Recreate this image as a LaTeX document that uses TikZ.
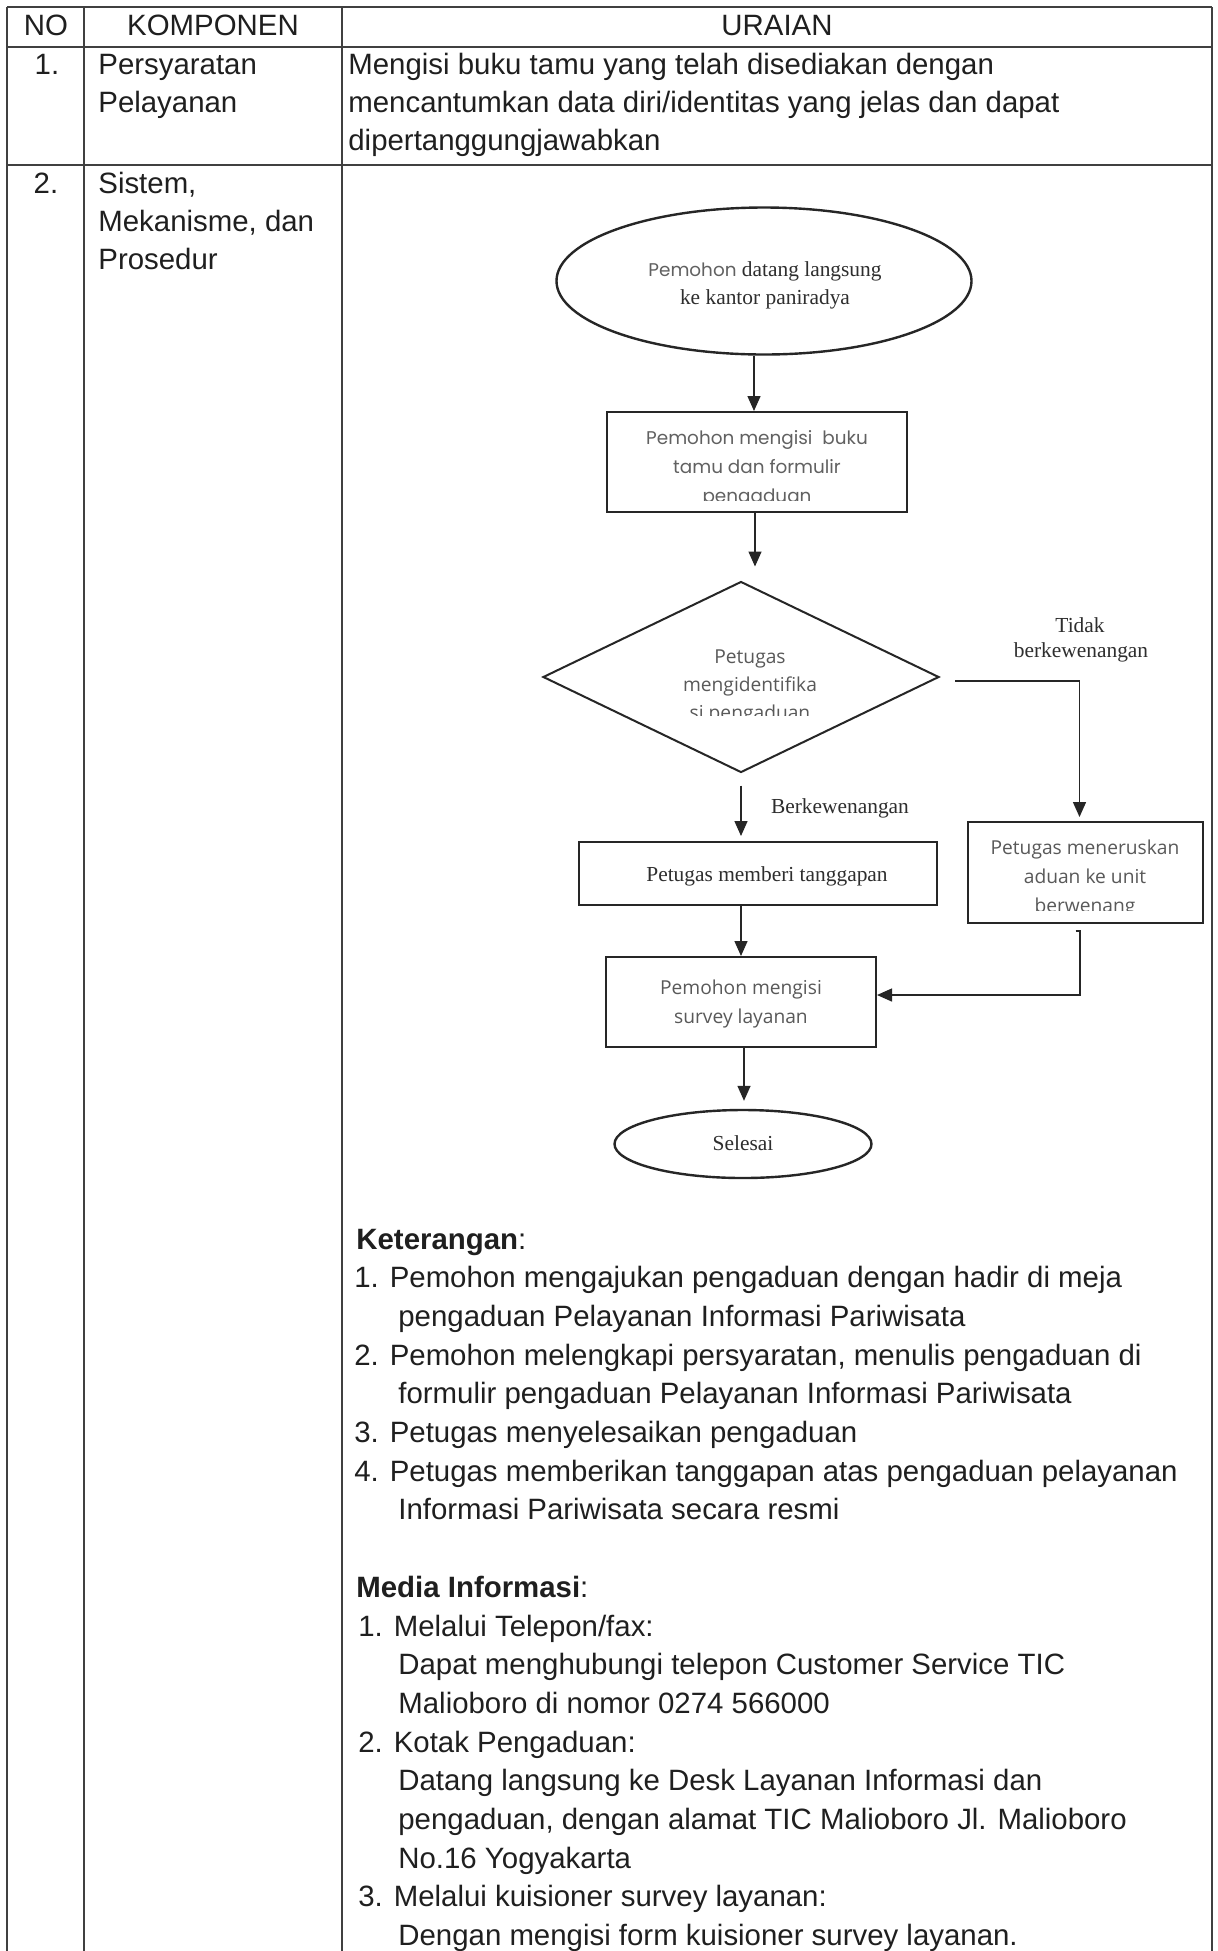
\documentclass[tikz,border=0pt]{standalone}
\usepackage{fontspec}
\setmainfont{Liberation Sans}
\newfontfamily\tms{Liberation Serif}
\newfontfamily\gth{Poppins}
\newfontfamily\seg{Open Sans}
\usetikzlibrary{shapes.geometric,arrows.meta,calc}
\tikzset{
  tline/.style={draw=black!75, line width=0.75pt},
  body/.style={font=\fontsize{14.7}{17}\selectfont, text=black!88, inner sep=0pt},
  bodyw/.style={body, anchor=base west},
  bodyc/.style={body, anchor=base},
  ser/.style={font=\tms\fontsize{10.7}{13}\selectfont, text=black!82, inner sep=0pt, anchor=base},
  gthf/.style={font=\gth\fontsize{9.2}{12}\selectfont, text=black!62, inner sep=0pt, anchor=base},
  segf/.style={font=\seg\fontsize{9.6}{12}\selectfont, text=black!65, inner sep=0pt, anchor=base},
  ellbox/.style={ellipse, draw=black!85, line width=1.2pt, inner sep=0pt},
  procbox/.style={rectangle, draw=black!85, line width=1pt, inner sep=0pt},
  decbox/.style={diamond, draw=black!85, line width=1pt, inner sep=0pt},
  arr/.style={draw=black!85, line width=0.7pt, -{Triangle[width=6.5pt,length=7.5pt]}}
}
\begin{document}
\begin{tikzpicture}[x=0.5pt,y=-0.5pt]
\useasboundingbox (0,0) rectangle (1218,1951);
\fill[white] (0,0) rectangle (1218,1951);
% table
\draw[tline] (7,7) -- (1212,7);
\draw[tline] (7,47) -- (1212,47);
\draw[tline] (7,165) -- (1212,165);
\draw[tline] (7,7) -- (7,1951);
\draw[tline] (84,7) -- (84,1951);
\draw[tline] (342,7) -- (342,1951);
\draw[tline] (1212,7) -- (1212,1951);
% header
\node[bodyc] (hno) at (46,35) {NO};
\node[bodyc] (hkomp) at (213,35) {KOMPONEN};
\node[bodyc] (hur) at (777,35) {URAIAN};
% row 1
\node[bodyc] (r1no) at (47,74) {1.};
\node[bodyw] (r1k1) at (98,74) {Persyaratan};
\node[bodyw] (r1k2) at (98,112) {Pelayanan};
\node[bodyw] (r1u1) at (348,74) {Mengisi buku tamu yang telah disediakan dengan};
\node[bodyw] (r1u2) at (348,112) {mencantumkan data diri/identitas yang jelas dan dapat};
\node[bodyw] (r1u3) at (348,150) {dipertanggungjawabkan};
% row 2
\node[bodyc] (r2no) at (46,193) {2.};
\node[bodyw] (r2k1) at (98,193) {Sistem,};
\node[bodyw] (r2k2) at (98,231) {Mekanisme, dan};
\node[bodyw] (r2k3) at (98,269) {Prosedur};

% flowchart shapes
\node[ellbox, minimum width=207.5pt, minimum height=73.5pt] (ell1) at (764,281) {};
\node[ser] (e1a) at (765,276) {{\gth\fontsize{9.2}{12}\selectfont\color{black!62}Pemohon} datang langsung};
\node[ser] (e1b) at (765,304) {ke kantor paniradya};

\node[procbox, minimum width=150pt, minimum height=50pt] (box1) at (757,462) {};
\node[gthf] (b1a) at (757,444) {Pemohon mengisi \ buku};
\node[gthf] (b1b) at (757,473) {tamu dan formulir};
\begin{scope}
\clip (607,480) rectangle (907,500);
\node[gthf] (b1c) at (757,502) {pengaduan};
\end{scope}

\node[decbox, minimum width=198pt, minimum height=95.5pt] (dia) at (741,677) {};
\node[segf] (da) at (750,663) {Petugas};
\node[segf] (db) at (750,691) {mengidentifika};
\begin{scope}
\clip (600,700) rectangle (900,715);
\node[segf] (dc) at (750,719) {si pengaduan};
\end{scope}

\node[procbox, minimum width=179pt, minimum height=31.5pt] (tbox) at (758,873.5) {};
\node[ser] (ta) at (767,881) {Petugas memberi tanggapan};

\node[procbox, minimum width=117.5pt, minimum height=50.5pt] (mbox) at (1085.5,872.5) {};
\node[segf] (ma) at (1085,854) {Petugas meneruskan};
\node[segf] (mb) at (1085,883) {aduan ke unit};
\begin{scope}
\clip (970,890) rectangle (1200,910);
\node[segf] (mc) at (1085,912) {berwenang};
\end{scope}

\node[procbox, minimum width=135pt, minimum height=45pt] (sbox) at (741,1002) {};
\node[segf] (sa) at (741,994) {Pemohon mengisi};
\node[segf] (sb) at (741,1023) {survey layanan};

\node[ellbox, minimum width=128.5pt, minimum height=34pt] (ell2) at (743,1144) {};
\node[ser] (ea) at (743,1150) {Selesai};

% labels
\node[ser] (lt1) at (1080,632) {Tidak};
\node[ser] (lt2) at (1081,657) {berkewenangan};
\node[ser] (lb) at (840,813) {Berkewenangan};

% connectors
\draw[arr] ([xshift=-5pt]ell1.south) -- ([xshift=-5pt]ell1.south |- box1.north);
\draw[arr, shorten >=7pt] ([xshift=-1pt]box1.south) -- ([xshift=-1pt]box1.south |- dia.north);
\draw[arr, shorten >=2pt] ([shift={(7.5pt,-2pt)}]dia.east) -| ([xshift=-3pt]mbox.north);
\draw[arr, shorten >=2.5pt] ([yshift=-6pt]dia.south) -- (dia.south |- tbox.north);
\draw[arr] (tbox.south -| sbox.north) -- (sbox.north);
\draw[arr] ([shift={(-5pt,-3.5pt)}]mbox.south) -- ([shift={(-2.75pt,-3.5pt)}]mbox.south) |- ([yshift=3.5pt]sbox.east);
\draw[arr, shorten >=4pt] ([xshift=1.5pt]sbox.south) -- ([xshift=1.5pt]sbox.south |- ell2.north);

% lower text
\node[bodyw] (kt) at (356,1249) {\textbf{Keterangan}:};
\node[bodyw] (k1) at (354,1287.7) {1. Pemohon mengajukan pengaduan dengan hadir di meja};
\node[bodyw] (k1b) at (398,1326.4) {pengaduan Pelayanan Informasi Pariwisata};
\node[bodyw] (k2) at (354,1365.1) {2. Pemohon melengkapi persyaratan, menulis pengaduan di};
\node[bodyw] (k2b) at (398,1403.8) {formulir pengaduan Pelayanan Informasi Pariwisata};
\node[bodyw] (k3) at (354,1442.5) {3. Petugas menyelesaikan pengaduan};
\node[bodyw] (k4) at (354,1481.2) {4. Petugas memberikan tanggapan atas pengaduan pelayanan};
\node[bodyw] (k4b) at (398,1519.9) {Informasi Pariwisata secara resmi};
\node[bodyw] (mt) at (356,1597.3) {\textbf{Media Informasi}:};
\node[bodyw] (m1) at (358,1636) {1. Melalui Telepon/fax:};
\node[bodyw] (m1b) at (398,1674.7) {Dapat menghubungi telepon Customer Service TIC};
\node[bodyw] (m1c) at (398,1713.4) {Malioboro di nomor 0274 566000};
\node[bodyw] (m2) at (358,1752.1) {2. Kotak Pengaduan:};
\node[bodyw] (m2b) at (398,1790.8) {Datang langsung ke Desk Layanan Informasi dan};
\node[bodyw] (m2c) at (398,1829.5) {pengaduan, dengan alamat TIC Malioboro Jl. Malioboro};
\node[bodyw] (m2d) at (398,1868.2) {No.16 Yogyakarta};
\node[bodyw] (m3) at (358,1906.9) {3. Melalui kuisioner survey layanan:};
\node[bodyw] (m3b) at (398,1945.6) {Dengan mengisi form kuisioner survey layanan.};
\end{tikzpicture}
\end{document}
